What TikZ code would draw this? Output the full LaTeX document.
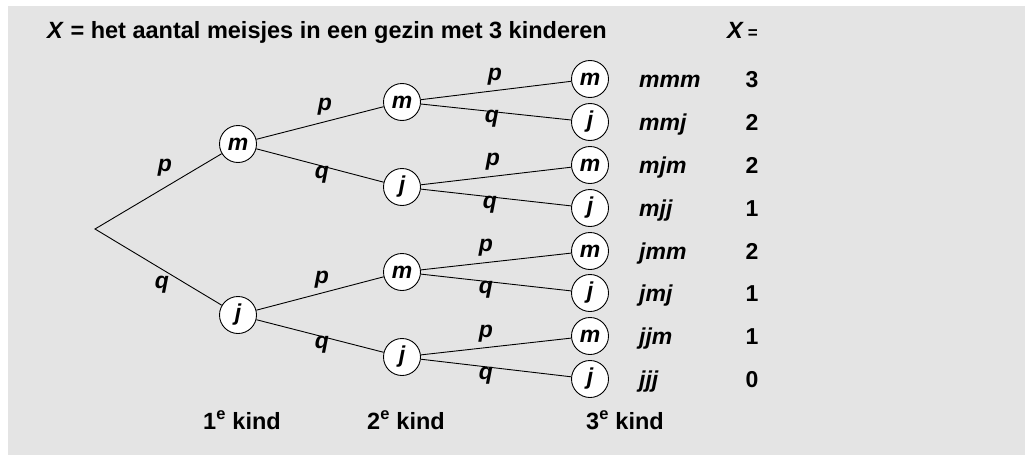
\documentclass[tikz,border=0pt]{standalone}
\usepackage{fontspec}
\setmainfont{Liberation Sans}
\begin{document}
\begin{tikzpicture}[x=1pt,y=-1pt,
  knoop/.style={circle,draw,fill=white,line width=0.9pt,minimum size=37pt,inner sep=0pt,font=\fontsize{23}{23}\selectfont\bfseries\itshape},
  tak/.style={line width=0.9pt},
  lbl/.style={font=\fontsize{23}{23}\selectfont\bfseries\itshape,inner sep=0pt},
  uitk/.style={font=\fontsize{23}{23}\selectfont\bfseries\itshape,anchor=base west,inner sep=0pt},
  getal/.style={font=\fontsize{23}{23}\selectfont\bfseries,anchor=base,inner sep=0pt},
  kop/.style={font=\fontsize{23.5}{23.5}\selectfont\bfseries,anchor=base west,inner sep=0pt}]
\useasboundingbox (0,0) rectangle (1025,455);
\fill[white] (0,0) rectangle (1025,455);
\fill[fill={rgb,255:red,228;green,228;blue,228}] (8,6) rectangle (1025,455);
% title
\node[kop] (titel) at (47,38) {\textit{X} = het aantal meisjes in een gezin met 3 kinderen};
\node[kop] (xkop) at (727,38) {\textit{X}\,{\fontsize{17}{17}\selectfont =}};
% tree
\coordinate (r) at (95,229);
\node[knoop] (a1) at (238,144) {m};
\node[knoop] (a2) at (238,315) {j};
\node[knoop] (b1) at (402,102) {m};
\node[knoop] (b2) at (402,187) {j};
\node[knoop] (b3) at (402,272) {m};
\node[knoop] (b4) at (402,357) {j};
\foreach \i/\y/\t in {1/79/m,2/122/j,3/165/m,4/208/j,5/251/m,6/293/j,7/336/m,8/379/j}
  \node[knoop] (c\i) at (590,\y) {\t};
\draw[tak] (a1) -- (r) -- (a2);
\draw[tak] (b1) -- (a1) -- (b2);
\draw[tak] (b3) -- (a2) -- (b4);
\draw[tak] (c1) -- (b1) -- (c2);
\draw[tak] (c3) -- (b2) -- (c4);
\draw[tak] (c5) -- (b3) -- (c6);
\draw[tak] (c7) -- (b4) -- (c8);
% branch labels
\node[lbl] (l1) at (165,168) {p};
\node[lbl] (l2) at (162,285) {q};
\node[lbl] (l3) at (325,107) {p};
\node[lbl] (l4) at (322,175) {q};
\node[lbl] (l5) at (322,280) {p};
\node[lbl] (l6) at (322,345) {q};
\node[lbl] (l7) at (495,77) {p};
\node[lbl] (l8) at (492,119) {q};
\node[lbl] (l9) at (493,162) {p};
\node[lbl] (l10) at (490,205) {q};
\node[lbl] (l11) at (486,248) {p};
\node[lbl] (l12) at (486,290) {q};
\node[lbl] (l13) at (486,334) {p};
\node[lbl] (l14) at (486,376) {q};
% outcomes
\foreach \i/\y/\s/\n in {1/79/mmm/3,2/122/mmj/2,3/165/mjm/2,4/208/mjj/1,5/251/jmm/2,6/293/jmj/1,7/336/jjm/1,8/379/jjj/0}{
  \node[uitk] (u\i) at (639,\y+8) {\s};
  \node[getal] (g\i) at (752,\y+8) {\n};
}
% bottom labels
\node[kop] (k1) at (203,429) {1\textsuperscript{e} kind};
\node[kop] (k2) at (367,429) {2\textsuperscript{e} kind};
\node[kop] (k3) at (586,429) {3\textsuperscript{e} kind};
\end{tikzpicture}
\end{document}
